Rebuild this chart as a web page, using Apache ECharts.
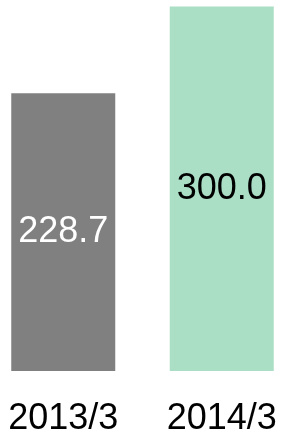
<!DOCTYPE html>
<html>
<head>
<meta charset="utf-8">
<script src="https://cdn.jsdelivr.net/npm/echarts@6/dist/echarts.min.js"></script>
<style>
  html, body { margin: 0; padding: 0; background: #fff; overflow: hidden; }
  /* the category bands run past the window edges in the reference */
  #chart { position: absolute; left: -16px; top: 0; width: 317px; height: 437px; }
</style>
</head>
<body>
<div id="chart"></div>
<script>
const categories = ['2013/3', '2014/3']
const values = [228.7, 300.0]
const barColors = ['#808080', '#aadfc6']
const labelColors = ['#ffffff', '#000000']

const chart = echarts.init(document.getElementById('chart'))

chart.setOption({
  animation: false,
  textStyle: { fontFamily: '"Liberation Sans", Arial, sans-serif' },
  grid: { left: 0, right: 0, top: 6.5, bottom: 60.5 },
  xAxis: {
    type: 'category',
    data: categories,
    axisLine: { show: false },
    axisTick: { show: false },
    axisLabel: { interval: 0, fontSize: 36, color: '#000', margin: 30 },
  },
  yAxis: { type: 'value', min: 0, max: 300, show: false },
  series: [{
    type: 'bar',
    barWidth: 104,
    data: values.map((v, i) => ({
      value: v,
      itemStyle: { color: barColors[i] },
      label: { color: labelColors[i] },
    })),
    label: {
      show: true,
      position: 'inside',
      fontSize: 36,
      formatter: p => p.value.toFixed(1),
    },
  }],
})
</script>
</body>
</html>
